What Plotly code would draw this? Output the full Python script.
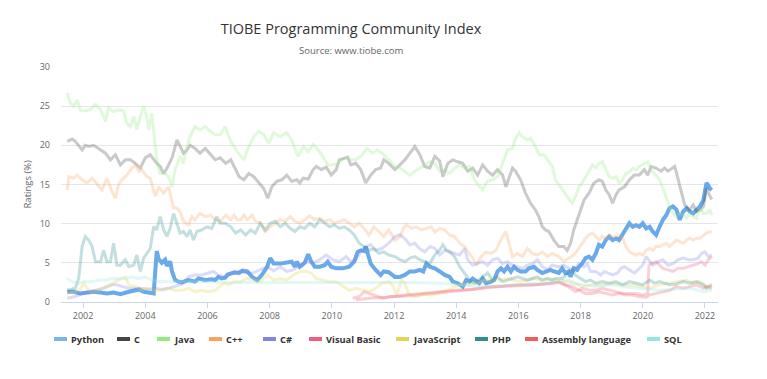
import plotly.graph_objects as go

# ---------------- data (year, rating %) ----------------
series_names = ["Python", "C", "Java", "C++", "C#", "Visual Basic",
                "JavaScript", "PHP", "Assembly language", "SQL"]
series_colors = ["#7cb5ec", "#434348", "#90ed7d", "#f7a35c", "#8085e9",
                 "#f15c80", "#e4d354", "#2b908f", "#f45b5b", "#91e8e1"]
tick_years = [2002, 2004, 2006, 2008, 2010, 2012, 2014, 2016, 2018, 2020, 2022]
y_ticks = [0, 5, 10, 15, 20, 25, 30]

python_data = [
    (2001.49, 1.3), (2001.70, 1.3), (2001.91, 1.1), (2002.13, 1.2), (2002.34, 1.3), (2002.56, 1.2),
    (2002.77, 1.1), (2002.98, 1.2), (2003.20, 1.0), (2003.41, 1.25), (2003.63, 1.45), (2003.79, 1.6),
    (2003.95, 1.3), (2004.16, 1.2), (2004.27, 1.1), (2004.37, 6.5), (2004.43, 5.5), (2004.53, 5.0),
    (2004.64, 5.4), (2004.70, 4.6), (2004.80, 5.2), (2004.86, 3.9), (2004.96, 2.8), (2005.07, 2.6),
    (2005.18, 2.5), (2005.39, 2.8), (2005.60, 2.6), (2005.71, 3.0), (2005.93, 2.8), (2006.14, 2.9),
    (2006.25, 2.8), (2006.35, 3.2), (2006.46, 3.0), (2006.57, 3.1), (2006.65, 3.5), (2006.86, 3.75),
    (2007.02, 3.7), (2007.12, 4.0), (2007.28, 3.9), (2007.44, 3.2), (2007.60, 2.8), (2007.76, 3.5),
    (2007.92, 4.5), (2008.02, 5.6), (2008.13, 4.9), (2008.34, 4.9), (2008.55, 5.0), (2008.71, 5.15),
    (2008.81, 4.5), (2008.87, 5.15), (2008.97, 4.5), (2009.13, 5.0), (2009.24, 6.1), (2009.34, 5.15),
    (2009.45, 4.5), (2009.61, 4.5), (2009.77, 4.7), (2009.87, 5.15), (2009.98, 4.5), (2010.14, 4.3),
    (2010.35, 4.3), (2010.56, 4.5), (2010.72, 5.15), (2010.83, 6.4), (2010.93, 6.6), (2011.04, 6.5),
    (2011.09, 7.07), (2011.17, 6.0), (2011.25, 4.9), (2011.41, 4.1), (2011.57, 3.45), (2011.67, 3.9),
    (2011.83, 3.8), (2012.03, 3.2), (2012.19, 3.2), (2012.35, 3.45), (2012.51, 3.9), (2012.67, 3.9),
    (2012.83, 4.1), (2012.94, 3.9), (2013.04, 4.9), (2013.15, 4.5), (2013.31, 4.3), (2013.47, 3.9),
    (2013.63, 3.45), (2013.79, 3.2), (2013.89, 2.6), (2014.05, 2.4), (2014.21, 1.96), (2014.32, 2.8),
    (2014.43, 2.6), (2014.53, 3.0), (2014.64, 2.6), (2014.74, 2.4), (2014.85, 3.0), (2014.96, 2.4),
    (2015.12, 2.6), (2015.22, 2.8), (2015.33, 3.9), (2015.44, 4.3), (2015.54, 3.9), (2015.65, 4.5),
    (2015.76, 3.9), (2015.86, 4.5), (2015.97, 4.1), (2016.07, 3.9), (2016.23, 3.9), (2016.34, 4.3),
    (2016.50, 4.5), (2016.61, 4.1), (2016.77, 3.7), (2016.93, 3.9), (2017.03, 4.1), (2017.14, 3.9),
    (2017.30, 3.7), (2017.41, 4.3), (2017.51, 3.7), (2017.62, 3.9), (2017.68, 3.2), (2017.78, 4.3),
    (2017.89, 4.1), (2017.95, 4.5), (2018.05, 4.9), (2018.16, 5.6), (2018.27, 5.8), (2018.38, 5.4),
    (2018.49, 6.2), (2018.59, 7.3), (2018.70, 7.07), (2018.81, 7.9), (2018.92, 8.35), (2019.03, 7.9),
    (2019.14, 8.1), (2019.24, 7.9), (2019.35, 8.55), (2019.46, 9.4), (2019.57, 10.05), (2019.68, 9.6),
    (2019.78, 9.8), (2019.89, 9.6), (2020.00, 10.05), (2020.11, 9.4), (2020.22, 9.6), (2020.32, 9.0),
    (2020.43, 8.55), (2020.54, 9.6), (2020.65, 10.5), (2020.76, 11.1), (2020.86, 11.97), (2020.97, 12.2),
    (2021.08, 11.8), (2021.19, 10.5), (2021.30, 11.55), (2021.41, 11.97), (2021.51, 11.55), (2021.62, 11.3),
    (2021.73, 11.8), (2021.84, 12.2), (2021.95, 13.0), (2022.05, 15.2), (2022.16, 14.5), (2022.22, 14.3),
]

c_data = [
    (2001.49, 20.5), (2001.65, 20.8), (2001.75, 20.5), (2001.86, 19.9), (2001.97, 19.4), (2002.07, 20.0),
    (2002.18, 19.85), (2002.34, 20.0), (2002.50, 19.6), (2002.72, 19.0), (2002.88, 18.15), (2003.04, 18.8),
    (2003.20, 17.5), (2003.36, 18.15), (2003.52, 18.15), (2003.68, 17.7), (2003.84, 17.1), (2004.00, 18.4),
    (2004.16, 18.8), (2004.27, 18.15), (2004.37, 17.7), (2004.48, 17.3), (2004.59, 16.4), (2004.70, 17.1),
    (2004.86, 18.4), (2005.02, 20.7), (2005.12, 19.85), (2005.23, 19.0), (2005.34, 19.4), (2005.44, 20.0),
    (2005.60, 19.6), (2005.76, 19.0), (2005.93, 19.6), (2006.09, 18.8), (2006.25, 18.15), (2006.41, 18.4),
    (2006.59, 17.7), (2006.75, 18.15), (2006.86, 17.3), (2007.02, 16.0), (2007.17, 15.6), (2007.33, 16.4),
    (2007.49, 16.0), (2007.65, 15.2), (2007.81, 14.5), (2007.94, 13.25), (2008.07, 14.7), (2008.23, 15.4),
    (2008.39, 15.6), (2008.55, 16.2), (2008.71, 15.4), (2008.87, 15.6), (2008.97, 15.2), (2009.08, 15.8),
    (2009.24, 15.7), (2009.40, 16.9), (2009.50, 17.3), (2009.66, 16.9), (2009.82, 17.2), (2009.98, 16.2),
    (2010.14, 16.9), (2010.24, 18.15), (2010.40, 18.4), (2010.51, 18.5), (2010.61, 17.5), (2010.77, 17.7),
    (2010.93, 16.9), (2011.09, 15.2), (2011.25, 16.2), (2011.41, 16.9), (2011.57, 17.1), (2011.67, 18.15),
    (2011.83, 17.7), (2012.03, 16.9), (2012.19, 17.5), (2012.35, 18.15), (2012.51, 19.0), (2012.67, 19.85),
    (2012.83, 18.8), (2012.99, 17.3), (2013.15, 17.1), (2013.31, 18.6), (2013.47, 18.0), (2013.57, 16.0),
    (2013.73, 17.7), (2013.89, 18.15), (2014.05, 17.9), (2014.21, 17.7), (2014.37, 16.7), (2014.53, 17.1),
    (2014.69, 16.2), (2014.85, 17.5), (2015.01, 16.7), (2015.17, 16.2), (2015.33, 16.9), (2015.49, 16.2),
    (2015.60, 14.7), (2015.70, 15.8), (2015.81, 17.1), (2015.91, 16.7), (2016.07, 15.6), (2016.23, 13.9),
    (2016.39, 12.6), (2016.55, 11.75), (2016.66, 10.9), (2016.77, 9.6), (2016.87, 9.2), (2016.98, 9.0),
    (2017.14, 7.9), (2017.30, 7.07), (2017.46, 7.07), (2017.57, 6.6), (2017.68, 7.5), (2017.78, 9.2),
    (2017.95, 11.3), (2018.11, 13.0), (2018.27, 13.9), (2018.43, 15.2), (2018.59, 15.6), (2018.70, 15.4),
    (2018.81, 14.3), (2018.92, 13.7), (2019.03, 12.6), (2019.14, 13.7), (2019.24, 14.3), (2019.41, 14.7),
    (2019.57, 15.6), (2019.73, 16.2), (2019.89, 16.2), (2020.05, 16.9), (2020.16, 16.2), (2020.27, 17.3),
    (2020.43, 17.1), (2020.59, 16.7), (2020.70, 17.1), (2020.81, 16.7), (2021.03, 17.3), (2021.14, 15.6),
    (2021.24, 13.9), (2021.35, 12.4), (2021.51, 11.75), (2021.62, 12.4), (2021.73, 11.55), (2021.84, 11.75),
    (2021.95, 12.2), (2022.05, 14.5), (2022.16, 13.5), (2022.22, 13.1),
]

java_data = [
    (2001.49, 26.7), (2001.59, 25.4), (2001.70, 25.0), (2001.81, 25.8), (2001.91, 24.5), (2002.07, 24.4),
    (2002.24, 24.6), (2002.40, 25.2), (2002.56, 24.6), (2002.72, 23.05), (2002.82, 24.75), (2002.98, 24.3),
    (2003.14, 24.5), (2003.30, 24.4), (2003.41, 22.8), (2003.52, 22.4), (2003.63, 23.7), (2003.73, 22.0),
    (2003.84, 23.7), (2003.95, 25.0), (2004.05, 23.5), (2004.11, 22.0), (2004.21, 24.1), (2004.30, 21.1),
    (2004.37, 18.15), (2004.48, 16.4), (2004.64, 16.4), (2004.75, 16.0), (2004.86, 14.7), (2004.96, 16.9),
    (2005.12, 18.6), (2005.23, 17.7), (2005.34, 19.85), (2005.44, 21.1), (2005.60, 22.4), (2005.76, 22.0),
    (2005.93, 22.4), (2006.09, 21.8), (2006.25, 21.35), (2006.41, 21.35), (2006.57, 22.4), (2006.75, 20.5),
    (2006.96, 19.2), (2007.17, 18.15), (2007.33, 19.85), (2007.49, 21.1), (2007.65, 21.8), (2007.81, 21.35),
    (2007.97, 20.3), (2008.13, 21.6), (2008.34, 21.1), (2008.55, 21.6), (2008.71, 20.7), (2008.81, 19.6),
    (2008.92, 18.6), (2009.08, 19.85), (2009.24, 19.2), (2009.40, 20.1), (2009.56, 19.4), (2009.71, 18.6),
    (2009.87, 17.5), (2010.03, 17.5), (2010.19, 17.7), (2010.40, 18.4), (2010.61, 18.15), (2010.77, 18.15),
    (2010.93, 18.6), (2011.14, 19.6), (2011.30, 19.0), (2011.46, 19.4), (2011.62, 19.0), (2011.83, 18.15),
    (2012.03, 17.3), (2012.19, 17.1), (2012.35, 16.7), (2012.51, 16.2), (2012.67, 16.7), (2012.83, 17.1),
    (2012.99, 17.5), (2013.15, 17.9), (2013.31, 17.7), (2013.47, 16.7), (2013.63, 16.9), (2013.79, 16.4),
    (2013.95, 17.1), (2014.11, 17.5), (2014.27, 17.1), (2014.43, 17.3), (2014.59, 15.6), (2014.69, 15.0),
    (2014.85, 14.3), (2015.01, 15.4), (2015.17, 15.6), (2015.33, 16.0), (2015.49, 17.7), (2015.65, 19.4),
    (2015.81, 19.6), (2015.91, 20.9), (2016.02, 21.6), (2016.13, 21.1), (2016.29, 20.7), (2016.39, 20.9),
    (2016.55, 19.85), (2016.66, 18.8), (2016.82, 18.8), (2016.93, 18.15), (2017.09, 17.3), (2017.19, 15.6),
    (2017.30, 15.0), (2017.41, 14.3), (2017.51, 13.7), (2017.62, 13.25), (2017.73, 12.6), (2017.84, 13.5),
    (2017.95, 14.7), (2018.05, 15.2), (2018.16, 16.0), (2018.27, 16.7), (2018.38, 17.5), (2018.49, 17.1),
    (2018.59, 17.7), (2018.70, 17.9), (2018.81, 16.9), (2018.92, 16.0), (2019.03, 15.8), (2019.14, 16.0),
    (2019.24, 15.2), (2019.35, 15.6), (2019.46, 16.4), (2019.57, 16.6), (2019.68, 17.1), (2019.78, 16.9),
    (2019.89, 17.3), (2020.05, 17.7), (2020.16, 17.9), (2020.27, 16.9), (2020.43, 16.2), (2020.54, 15.6),
    (2020.65, 14.5), (2020.76, 13.25), (2020.86, 12.2), (2020.97, 11.3), (2021.08, 10.9), (2021.19, 11.3),
    (2021.30, 11.1), (2021.41, 10.7), (2021.51, 11.3), (2021.62, 10.9), (2021.73, 10.7), (2021.84, 12.0),
    (2021.95, 11.3), (2022.05, 11.3), (2022.16, 11.8), (2022.22, 11.1),
]

cpp_data = [
    (2001.49, 14.3), (2001.54, 16.0), (2001.70, 15.8), (2001.81, 16.2), (2001.97, 15.6), (2002.13, 15.2),
    (2002.29, 15.8), (2002.45, 15.0), (2002.61, 14.3), (2002.77, 15.8), (2002.93, 14.1), (2003.04, 13.25),
    (2003.14, 15.0), (2003.25, 15.6), (2003.41, 16.2), (2003.57, 17.1), (2003.68, 17.5), (2003.79, 16.7),
    (2003.89, 16.9), (2004.05, 16.0), (2004.16, 15.8), (2004.32, 13.5), (2004.43, 14.7), (2004.59, 13.9),
    (2004.75, 14.7), (2004.91, 12.0), (2005.02, 12.0), (2005.12, 11.5), (2005.23, 10.3), (2005.39, 9.85),
    (2005.50, 10.9), (2005.60, 10.5), (2005.76, 11.3), (2005.93, 10.9), (2006.09, 11.1), (2006.25, 10.5),
    (2006.41, 10.3), (2006.59, 11.1), (2006.75, 10.5), (2006.86, 11.1), (2006.96, 10.5), (2007.07, 10.5),
    (2007.17, 11.1), (2007.28, 10.5), (2007.44, 11.1), (2007.54, 10.3), (2007.70, 10.1), (2007.86, 9.0),
    (2008.02, 9.6), (2008.18, 10.05), (2008.34, 10.5), (2008.50, 10.3), (2008.66, 10.9), (2008.81, 10.3),
    (2008.97, 10.05), (2009.13, 10.5), (2009.29, 11.0), (2009.45, 10.5), (2009.61, 10.7), (2009.77, 10.3),
    (2009.93, 10.5), (2010.08, 10.05), (2010.24, 10.3), (2010.40, 10.5), (2010.56, 10.05), (2010.72, 9.6),
    (2010.88, 10.05), (2011.04, 9.4), (2011.20, 8.55), (2011.35, 9.6), (2011.51, 9.0), (2011.67, 8.35),
    (2011.83, 9.2), (2012.03, 7.9), (2012.19, 8.3), (2012.30, 9.4), (2012.40, 9.85), (2012.56, 9.4),
    (2012.72, 9.6), (2012.88, 9.2), (2013.04, 9.4), (2013.20, 9.6), (2013.31, 8.9), (2013.47, 9.4),
    (2013.63, 9.2), (2013.79, 8.55), (2013.95, 8.35), (2014.11, 7.5), (2014.27, 7.07), (2014.43, 6.2),
    (2014.53, 5.6), (2014.64, 4.7), (2014.80, 5.8), (2014.96, 6.4), (2015.12, 6.2), (2015.28, 6.6),
    (2015.38, 7.5), (2015.49, 8.35), (2015.60, 9.0), (2015.70, 7.5), (2015.81, 5.8), (2015.97, 6.2),
    (2016.13, 5.8), (2016.29, 6.85), (2016.45, 6.2), (2016.61, 6.0), (2016.77, 6.4), (2016.93, 5.8),
    (2017.09, 6.2), (2017.30, 5.8), (2017.46, 5.15), (2017.62, 5.6), (2017.78, 6.0), (2017.95, 6.85),
    (2018.05, 7.5), (2018.16, 8.15), (2018.27, 8.55), (2018.38, 8.8), (2018.49, 8.35), (2018.59, 7.9),
    (2018.70, 8.35), (2018.81, 8.15), (2018.92, 8.55), (2019.03, 8.35), (2019.14, 8.35), (2019.24, 8.55),
    (2019.35, 8.15), (2019.46, 7.07), (2019.57, 6.4), (2019.68, 6.2), (2019.78, 6.0), (2019.89, 6.2),
    (2020.00, 6.0), (2020.11, 6.6), (2020.22, 6.85), (2020.32, 6.6), (2020.43, 7.07), (2020.54, 7.07),
    (2020.65, 7.3), (2020.76, 7.5), (2020.86, 7.07), (2020.97, 7.5), (2021.08, 7.9), (2021.19, 7.7),
    (2021.30, 7.5), (2021.41, 7.9), (2021.51, 8.15), (2021.62, 7.9), (2021.73, 8.15), (2021.84, 8.15),
    (2021.95, 8.55), (2022.05, 8.8), (2022.22, 9.0),
]

csharp_data = [
    (2001.49, 0.47), (2001.75, 0.7), (2001.97, 1.1), (2002.18, 1.3), (2002.40, 1.5), (2002.66, 1.75),
    (2002.93, 2.2), (2003.09, 2.2), (2003.25, 2.0), (2003.47, 1.75), (2003.68, 1.75), (2003.89, 1.75),
    (2004.11, 1.6), (2004.32, 1.75), (2004.53, 1.6), (2004.75, 1.75), (2004.96, 2.0), (2005.18, 2.3),
    (2005.39, 3.2), (2005.60, 3.45), (2005.82, 3.45), (2006.03, 3.75), (2006.19, 3.9), (2006.35, 3.45),
    (2006.57, 3.2), (2006.65, 3.45), (2006.86, 3.9), (2007.07, 3.9), (2007.28, 3.7), (2007.49, 3.75),
    (2007.70, 4.1), (2007.92, 4.5), (2008.13, 4.0), (2008.34, 4.5), (2008.55, 3.9), (2008.76, 4.1),
    (2008.97, 4.7), (2009.19, 5.15), (2009.40, 5.0), (2009.61, 5.4), (2009.82, 6.0), (2010.03, 5.4),
    (2010.24, 5.15), (2010.46, 5.8), (2010.61, 5.15), (2010.77, 5.4), (2010.93, 6.4), (2011.09, 7.07),
    (2011.25, 7.3), (2011.41, 6.6), (2011.62, 6.85), (2011.83, 7.5), (2012.03, 8.35), (2012.19, 8.6),
    (2012.35, 8.1), (2012.51, 7.3), (2012.67, 7.5), (2012.83, 6.8), (2012.99, 6.4), (2013.15, 7.07),
    (2013.31, 6.85), (2013.47, 6.0), (2013.63, 6.6), (2013.79, 6.4), (2013.95, 6.2), (2014.11, 6.0),
    (2014.27, 6.85), (2014.37, 5.4), (2014.53, 4.7), (2014.69, 4.9), (2014.85, 5.15), (2015.01, 4.7),
    (2015.17, 5.4), (2015.33, 5.6), (2015.49, 4.9), (2015.65, 5.15), (2015.81, 4.7), (2015.97, 4.5),
    (2016.13, 4.3), (2016.29, 4.7), (2016.45, 4.9), (2016.61, 5.4), (2016.77, 4.5), (2016.93, 4.1),
    (2017.09, 4.7), (2017.30, 4.5), (2017.46, 4.7), (2017.62, 4.3), (2017.78, 4.1), (2017.95, 4.9),
    (2018.11, 4.5), (2018.22, 4.9), (2018.32, 3.9), (2018.49, 3.9), (2018.65, 3.45), (2018.76, 3.9),
    (2018.86, 3.7), (2019.03, 3.45), (2019.19, 3.7), (2019.30, 4.3), (2019.41, 4.5), (2019.57, 4.1),
    (2019.73, 3.7), (2019.84, 4.1), (2020.00, 4.7), (2020.11, 5.8), (2020.22, 5.15), (2020.32, 4.7),
    (2020.49, 5.15), (2020.65, 5.4), (2020.81, 4.7), (2020.97, 4.9), (2021.14, 5.4), (2021.30, 5.6),
    (2021.46, 5.4), (2021.62, 5.4), (2021.78, 5.6), (2021.89, 6.2), (2022.00, 6.4), (2022.11, 5.8),
    (2022.22, 6.0),
]

vb_data = [
    (2010.67, 0.47), (2010.88, 0.7), (2011.04, 1.3), (2011.20, 1.1), (2011.35, 0.9), (2011.51, 0.7),
    (2011.67, 0.47), (2011.83, 0.7), (2012.24, 0.7), (2012.78, 0.9), (2013.31, 1.1), (2013.84, 1.3),
    (2014.37, 1.5), (2014.90, 1.75), (2015.44, 1.96), (2015.97, 2.2), (2016.50, 2.2), (2017.03, 2.4),
    (2017.30, 2.6), (2017.62, 1.9), (2017.84, 1.3), (2018.05, 1.75), (2018.27, 1.5), (2018.49, 1.5),
    (2018.70, 1.75), (2018.92, 1.5), (2019.14, 1.3), (2019.35, 1.1), (2019.57, 1.1), (2019.78, 1.1),
    (2020.00, 0.9), (2020.16, 1.1), (2020.20, 4.7), (2020.27, 4.9), (2020.43, 5.15), (2020.54, 4.7),
    (2020.65, 4.3), (2020.81, 4.1), (2020.97, 3.9), (2021.14, 4.3), (2021.30, 4.3), (2021.46, 4.5),
    (2021.62, 4.7), (2021.78, 4.9), (2021.89, 5.15), (2022.00, 4.7), (2022.11, 5.4), (2022.22, 5.8),
]

js_data = [
    (2001.49, 1.1), (2001.75, 1.3), (2001.91, 1.6), (2002.02, 2.4), (2002.13, 1.75), (2002.29, 1.3),
    (2002.50, 1.5), (2002.72, 2.0), (2002.88, 2.2), (2003.04, 2.6), (2003.25, 3.0), (2003.36, 3.2),
    (2003.47, 2.2), (2003.68, 2.0), (2003.89, 1.5), (2004.11, 1.75), (2004.32, 1.5), (2004.53, 1.5),
    (2004.75, 1.75), (2004.96, 1.5), (2005.18, 1.5), (2005.39, 1.75), (2005.60, 1.3), (2005.82, 1.5),
    (2006.03, 1.3), (2006.25, 1.5), (2006.46, 2.2), (2006.57, 2.4), (2006.65, 2.2), (2006.86, 2.6),
    (2007.07, 2.6), (2007.28, 3.0), (2007.49, 2.8), (2007.70, 2.6), (2007.92, 3.45), (2008.13, 2.8),
    (2008.34, 3.0), (2008.55, 2.8), (2008.76, 3.45), (2008.97, 3.9), (2009.19, 3.9), (2009.34, 3.7),
    (2009.50, 3.0), (2009.71, 2.8), (2009.93, 2.6), (2010.14, 2.6), (2010.35, 2.0), (2010.56, 1.5),
    (2010.77, 1.75), (2010.98, 1.5), (2011.20, 1.3), (2011.41, 1.75), (2011.62, 2.4), (2011.83, 2.6),
    (2011.98, 1.96), (2012.09, 0.9), (2012.24, 2.8), (2012.35, 2.4), (2012.46, 1.1), (2012.62, 0.7),
    (2012.78, 0.7), (2012.94, 1.1), (2013.10, 0.9), (2013.26, 0.9), (2013.41, 1.1), (2013.57, 1.3),
    (2013.73, 1.5), (2013.95, 1.96), (2014.16, 2.2), (2014.37, 2.2), (2014.59, 2.4), (2014.80, 2.6),
    (2015.01, 2.8), (2015.22, 2.8), (2015.44, 2.8), (2015.65, 3.0), (2015.86, 2.8), (2016.07, 2.6),
    (2016.29, 2.8), (2016.50, 3.0), (2016.71, 2.8), (2016.93, 3.0), (2017.14, 2.8), (2017.30, 2.6),
    (2017.62, 2.8), (2017.84, 2.4), (2018.05, 1.96), (2018.38, 2.2), (2018.70, 2.2), (2019.03, 2.4),
    (2019.35, 2.2), (2019.68, 2.2), (2020.00, 1.96), (2020.22, 1.75), (2020.54, 2.2), (2020.86, 2.4),
    (2021.19, 2.6), (2021.41, 2.8), (2021.62, 2.4), (2021.84, 2.6), (2022.05, 1.96), (2022.22, 2.2),
]

php_data = [
    (2001.49, 1.5), (2001.75, 1.75), (2001.86, 3.0), (2001.97, 7.1), (2002.07, 8.35), (2002.18, 7.9),
    (2002.29, 7.1), (2002.40, 5.15), (2002.56, 5.15), (2002.66, 6.6), (2002.77, 5.15), (2002.88, 5.15),
    (2002.98, 7.5), (2003.09, 4.7), (2003.20, 4.7), (2003.36, 5.4), (2003.47, 4.5), (2003.63, 4.7),
    (2003.73, 6.0), (2003.84, 3.9), (2003.95, 5.6), (2004.05, 6.2), (2004.16, 6.85), (2004.27, 9.6),
    (2004.37, 9.2), (2004.48, 10.9), (2004.59, 9.2), (2004.70, 8.35), (2004.80, 9.4), (2004.91, 11.3),
    (2005.02, 10.05), (2005.12, 8.8), (2005.23, 9.0), (2005.34, 8.35), (2005.44, 9.2), (2005.55, 7.9),
    (2005.66, 9.0), (2005.82, 9.2), (2005.98, 9.6), (2006.14, 9.4), (2006.30, 10.9), (2006.41, 10.05),
    (2006.57, 10.05), (2006.75, 9.6), (2006.91, 8.8), (2007.07, 9.2), (2007.23, 8.55), (2007.39, 9.2),
    (2007.54, 8.8), (2007.70, 10.05), (2007.86, 9.2), (2008.02, 10.05), (2008.18, 10.3), (2008.34, 9.6),
    (2008.50, 10.05), (2008.66, 9.4), (2008.81, 9.0), (2008.97, 9.6), (2009.13, 9.4), (2009.29, 10.05),
    (2009.45, 9.6), (2009.61, 10.5), (2009.77, 10.05), (2009.93, 9.6), (2010.08, 9.85), (2010.24, 9.4),
    (2010.40, 9.6), (2010.56, 9.2), (2010.72, 8.55), (2010.88, 7.5), (2011.04, 7.07), (2011.20, 6.6),
    (2011.35, 6.8), (2011.51, 6.2), (2011.67, 6.4), (2011.83, 6.0), (2012.03, 5.8), (2012.19, 5.4),
    (2012.35, 5.15), (2012.51, 5.6), (2012.67, 5.8), (2012.83, 5.4), (2012.99, 5.15), (2013.15, 4.9),
    (2013.31, 6.0), (2013.47, 6.65), (2013.57, 7.3), (2013.68, 6.65), (2013.79, 6.4), (2013.95, 5.8),
    (2014.11, 4.5), (2014.27, 3.7), (2014.43, 2.8), (2014.59, 2.4), (2014.74, 2.8), (2014.85, 3.2),
    (2015.01, 3.7), (2015.17, 2.8), (2015.33, 3.2), (2015.49, 2.6), (2015.65, 2.8), (2015.81, 3.0),
    (2015.97, 3.2), (2016.13, 3.0), (2016.29, 2.8), (2016.45, 3.0), (2016.61, 3.2), (2016.77, 2.8),
    (2016.93, 3.0), (2017.09, 2.8), (2017.19, 3.0), (2017.41, 3.0), (2017.62, 3.7), (2017.73, 4.1),
    (2017.84, 3.4), (2018.00, 3.0), (2018.16, 2.6), (2018.32, 2.8), (2018.49, 2.4), (2018.70, 2.6),
    (2018.92, 2.4), (2019.14, 2.6), (2019.35, 2.2), (2019.57, 2.6), (2019.78, 2.4), (2020.00, 2.2),
    (2020.22, 2.8), (2020.38, 2.4), (2020.54, 2.6), (2020.70, 2.4), (2020.86, 2.2), (2021.08, 2.3),
    (2021.30, 2.6), (2021.51, 2.4), (2021.73, 2.6), (2021.95, 2.2), (2022.05, 1.75), (2022.22, 2.2),
]

asm_data = [
    (2010.77, 0.3), (2011.30, 0.5), (2011.83, 0.6), (2012.35, 0.9), (2012.88, 1.1), (2013.41, 1.3),
    (2013.95, 1.5), (2014.48, 1.6), (2015.01, 1.96), (2015.54, 2.0), (2016.07, 2.1), (2016.61, 2.2),
    (2017.14, 2.4), (2017.30, 2.5), (2017.51, 2.2), (2017.73, 2.0), (2017.95, 1.5), (2018.16, 1.1),
    (2018.38, 1.1), (2018.59, 1.3), (2018.81, 1.1), (2019.03, 0.9), (2019.24, 1.1), (2019.46, 0.9),
    (2019.68, 0.9), (2019.89, 0.7), (2020.11, 0.6), (2020.22, 0.9), (2020.43, 1.1), (2020.65, 1.3),
    (2020.86, 1.5), (2021.08, 1.96), (2021.30, 1.75), (2021.51, 1.96), (2021.73, 2.2), (2021.95, 1.75),
    (2022.05, 1.96), (2022.22, 1.75),
]

sql_data = [
    (2001.49, 3.0), (2001.65, 2.6), (2001.86, 2.4), (2002.07, 2.6), (2002.29, 2.6), (2002.50, 2.8),
    (2002.72, 2.8), (2002.93, 3.0), (2003.14, 3.0), (2003.36, 3.0), (2003.57, 3.2), (2003.79, 3.0),
    (2004.00, 3.2), (2004.21, 2.8), (2004.43, 2.6), (2004.64, 2.6), (2004.86, 2.6), (2005.07, 2.6),
    (2005.50, 2.6), (2005.98, 2.6), (2006.50, 2.5), (2007.50, 2.5), (2008.50, 2.5), (2009.50, 2.5),
    (2010.50, 2.5), (2011.50, 2.5), (2012.50, 2.5), (2013.50, 2.4), (2014.00, 2.2), (2015.00, 2.0),
    (2016.00, 2.2), (2017.00, 2.5), (2017.50, 2.6), (2018.00, 2.2), (2018.50, 2.0), (2019.00, 2.2),
    (2019.50, 1.9), (2020.00, 1.7), (2020.50, 1.5), (2021.00, 1.6), (2021.50, 1.75), (2022.00, 1.3),
    (2022.22, 1.6),
]

all_data = [python_data, c_data, java_data, cpp_data, csharp_data, vb_data,
            js_data, php_data, asm_data, sql_data]

# ---------------- figure ----------------
# The page body has an 8px default margin, so the figure starts at (8, 8).
OFF = 8
W, H = 767 - OFF, 379 - OFF
# plot area in window pixels
PL, PR, PT, PB = 61, 718, 67, 302
FONT = "Open Sans, DejaVu Sans, sans-serif"

fig = go.Figure()
for i, (name, color, data) in enumerate(zip(series_names, series_colors, all_data)):
    xs = [d[0] for d in data]
    ys = [d[1] for d in data]
    highlighted = (i == 0)
    fig.add_trace(go.Scatter(
        x=xs, y=ys, mode="lines", name=name,
        line=dict(color="#6aa9ea" if highlighted else color,
                  width=4 if highlighted else 3),
        opacity=1.0 if highlighted else 0.28,
        showlegend=False, hoverinfo="skip",
    ))

def px_to_paper_x(px):
    return (px - PL) / (PR - PL)

def py_to_paper_y(py):
    return (PB - py) / (PB - PT)

# manual legend (Highcharts style: short line + bold label)
legend_sym_x = [54, 117, 157, 209, 263, 309, 396, 475, 525, 647]
legend_y = 339
shapes = []
annotations = []
for name, color, sx in zip(series_names, series_colors, legend_sym_x):
    shapes.append(dict(type="line", xref="paper", yref="paper",
                       x0=px_to_paper_x(sx), x1=px_to_paper_x(sx + 13),
                       y0=py_to_paper_y(legend_y), y1=py_to_paper_y(legend_y),
                       line=dict(color=color, width=4)))
    annotations.append(dict(xref="paper", yref="paper",
                            x=px_to_paper_x(sx + 15), y=py_to_paper_y(legend_y),
                            xanchor="left", yanchor="middle", showarrow=False,
                            text="<b>" + name + "</b>",
                            font=dict(family=FONT, size=9.3, color="#333333")))

# subtitle
annotations.append(dict(xref="paper", yref="paper",
                        x=px_to_paper_x(351), y=py_to_paper_y(50),
                        xanchor="center", yanchor="middle", showarrow=False,
                        text="Source: www.tiobe.com",
                        font=dict(family=FONT, size=9.5, color="#666666")))
# y-axis title
annotations.append(dict(xref="paper", yref="paper",
                        x=px_to_paper_x(27), y=0.5, textangle=-90,
                        xanchor="center", yanchor="middle", showarrow=False,
                        text="Ratings (%)",
                        font=dict(family=FONT, size=9.5, color="#666666")))

fig.update_layout(
    width=W, height=H,
    margin=dict(l=PL - OFF, r=767 - PR, t=PT - OFF, b=379 - PB, pad=0),
    paper_bgcolor="white", plot_bgcolor="white",
    title=dict(text="TIOBE Programming Community Index",
               x=(351 - OFF) / W, xref="container", xanchor="center",
               y=1 - (29 - OFF) / H, yref="container", yanchor="middle",
               font=dict(family=FONT, size=14.5, color="#333333")),
    shapes=shapes, annotations=annotations,
    showlegend=False,
    xaxis=dict(range=[2001.29, 2022.42], tickmode="array",
               tickvals=tick_years, ticktext=[str(t) for t in tick_years],
               showgrid=False, zeroline=False,
               showline=True, linecolor="#ccd6eb", linewidth=1,
               ticks="outside", ticklen=5, tickcolor="#ccd6eb",
               tickfont=dict(family=FONT, size=9, color="#666666")),
    yaxis=dict(range=[0, 30], tickmode="array", tickvals=y_ticks,
               showgrid=True, gridcolor="#e6e6e6", gridwidth=1,
               zeroline=False, showline=False,
               ticks="", ticklabelstandoff=10,
               tickfont=dict(family=FONT, size=9, color="#666666")),
)

fig.write_html("out.html")
